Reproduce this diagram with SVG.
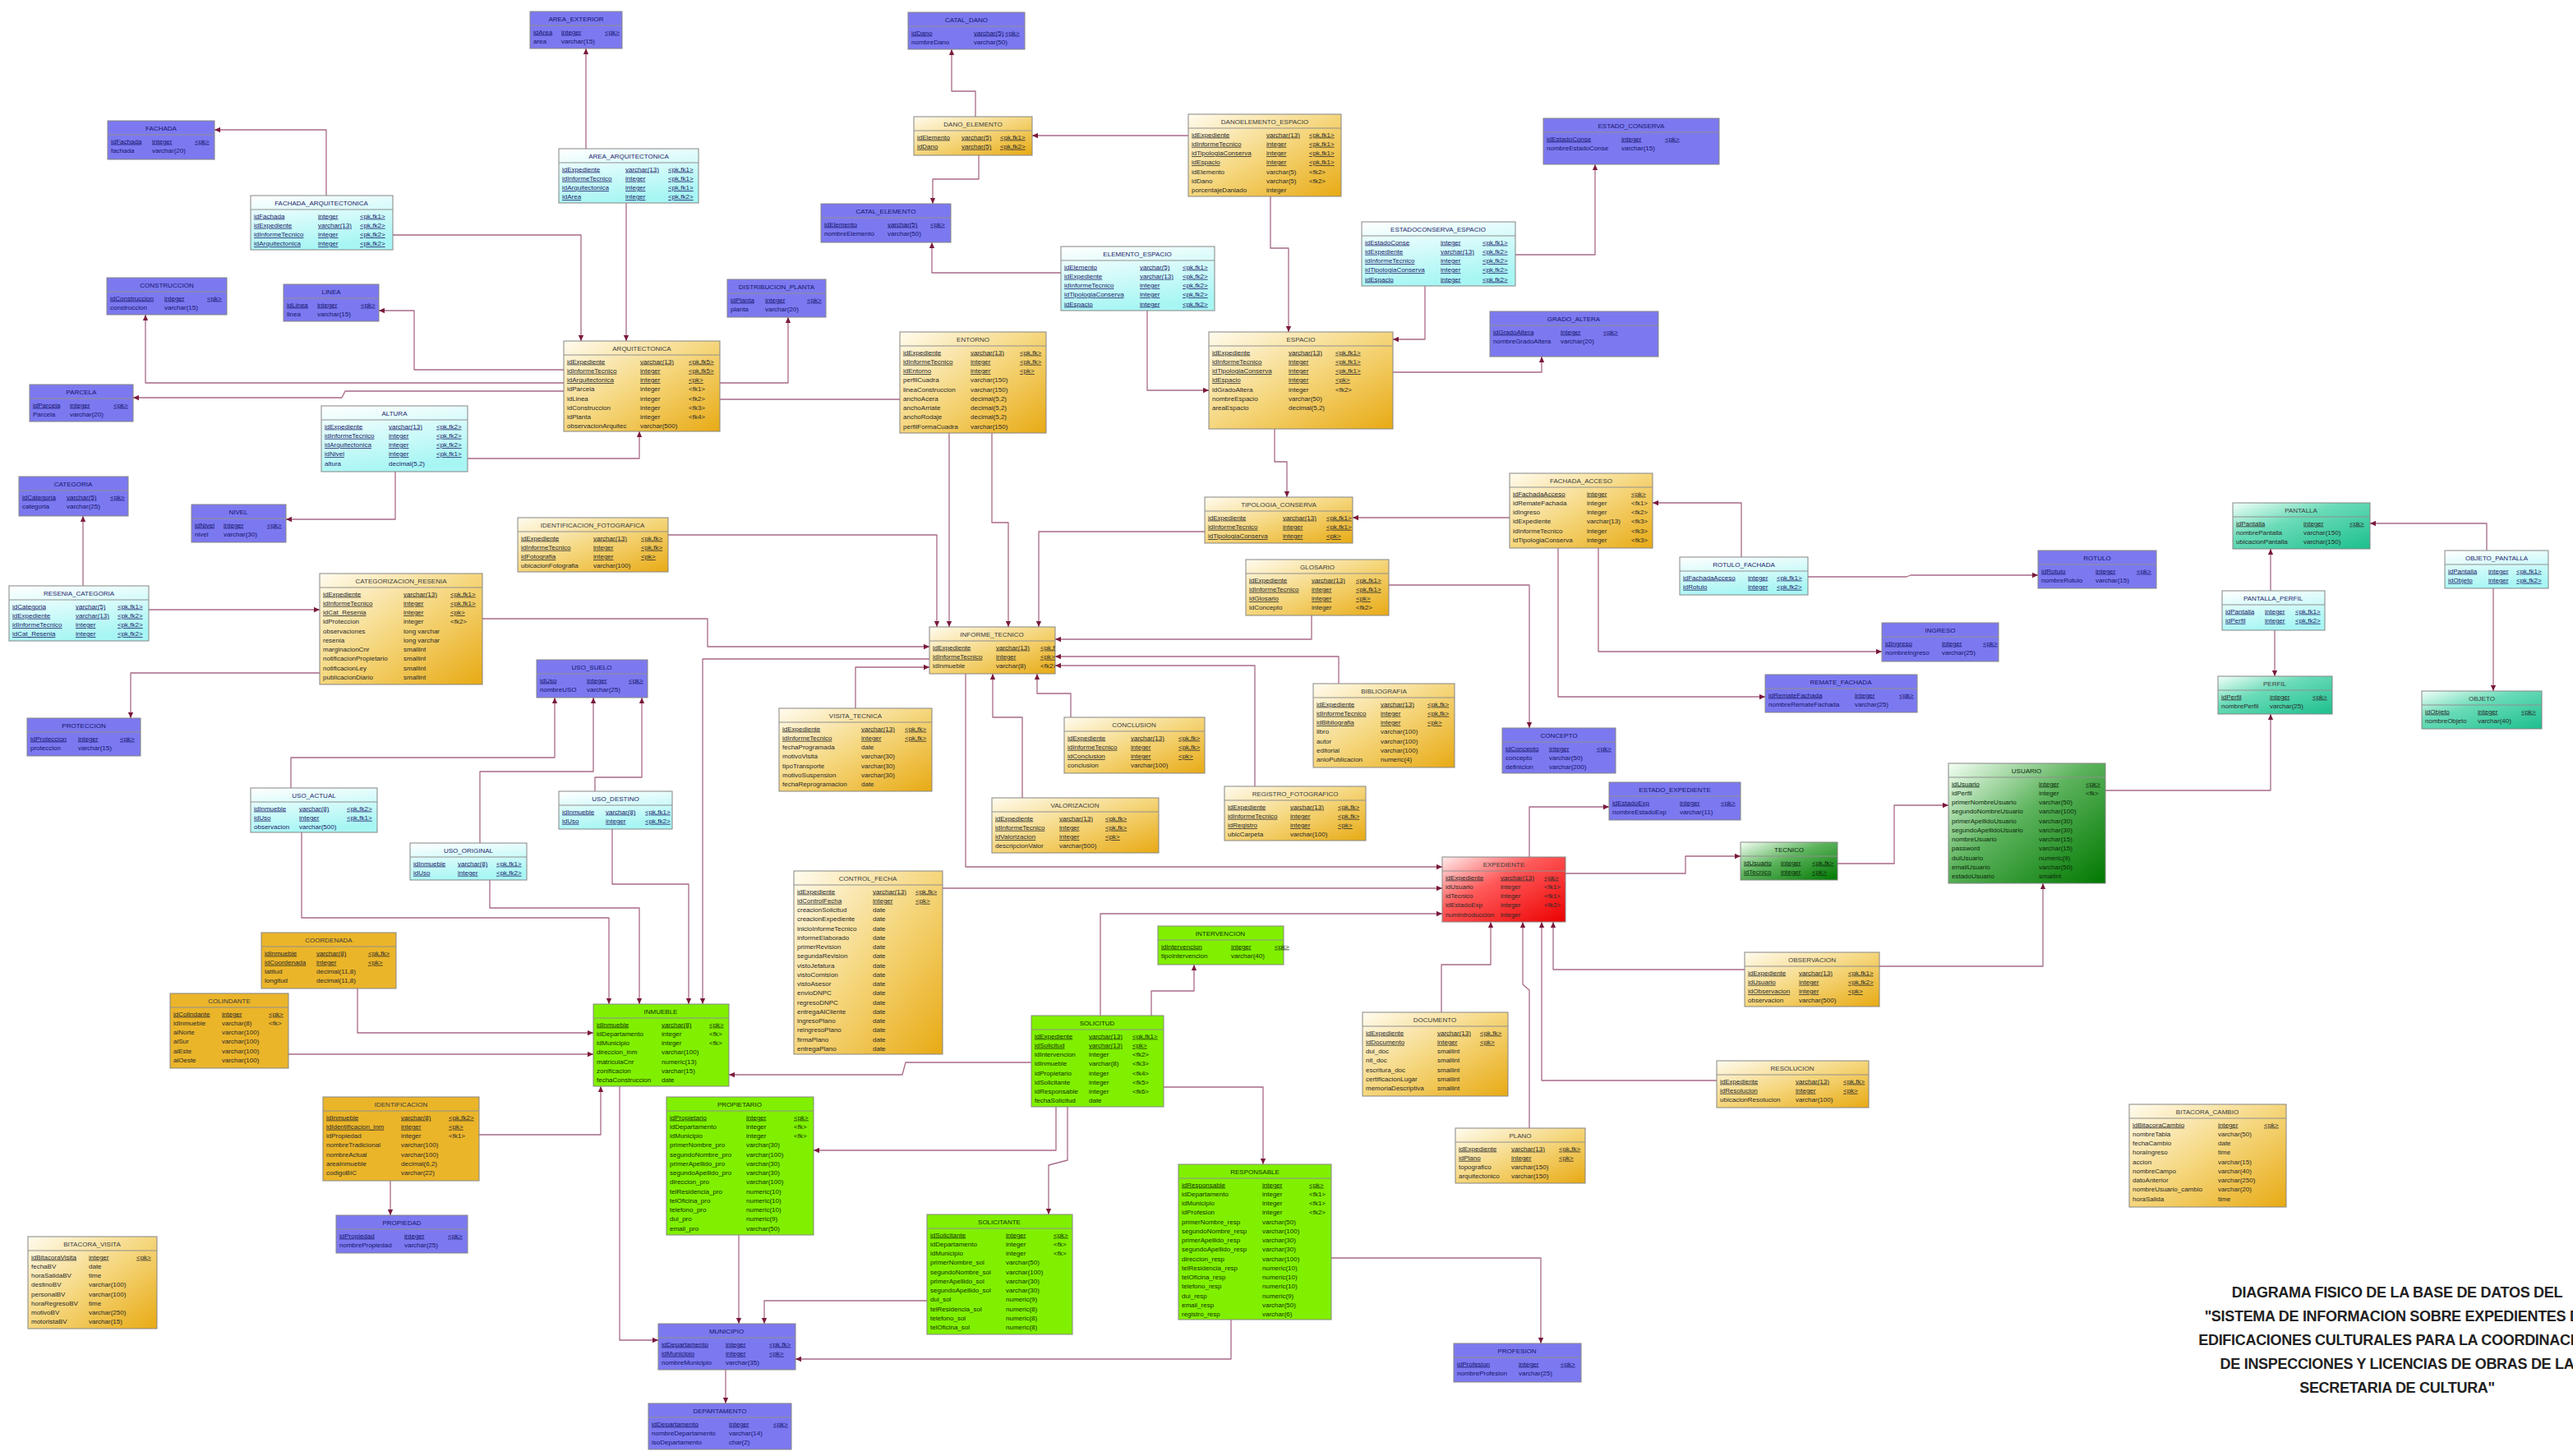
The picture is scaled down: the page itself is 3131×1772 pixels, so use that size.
<svg xmlns="http://www.w3.org/2000/svg" width="3131" height="1772" viewBox="0 0 3131 1772">
<defs>
<style>
text{font-family:"Liberation Sans",Arial,sans-serif;font-size:8px;fill:#2b2b2b}
.ttl{text-anchor:middle;fill:#3c3c3c}
.k{text-decoration:underline}
.tbl>rect{stroke:#858585;stroke-width:1}
.tbl>line{stroke:#909090;stroke-width:1}
.blue>rect{fill:#7c79f0}
.blue text{fill:#15156c}
.org>rect{fill:url(#gO)}
.org2>rect{fill:#ebb52a}
.cya>rect{fill:url(#gC)}
.cya text{fill:#1c1c6a}
.grn>rect{fill:#80f000}
.grn text{fill:#153000}
.red>rect{fill:url(#gR)}
.dgr>rect{fill:url(#gG)}
.dgr text{fill:#0b2a0b}
.tea>rect{fill:url(#gT)}
.cn path{fill:none;stroke:#a86a88;stroke-width:1.3;stroke-linejoin:round;marker-end:url(#ah)}
.title text{font-size:18px;font-weight:bold;fill:#222;text-anchor:middle;letter-spacing:-0.3px}
</style>
<linearGradient id="gO" x1="0" y1="0" x2="1" y2="1"><stop offset="0" stop-color="#fffbee"/><stop offset="0.5" stop-color="#f5d67c"/><stop offset="1" stop-color="#e8aa14"/></linearGradient>
<linearGradient id="gC" x1="0" y1="0" x2="0.3" y2="1"><stop offset="0" stop-color="#ffffff"/><stop offset="1" stop-color="#a8f6f4"/></linearGradient>
<linearGradient id="gR" x1="0" y1="0" x2="1" y2="1"><stop offset="0" stop-color="#ffecec"/><stop offset="0.4" stop-color="#ff5a5a"/><stop offset="1" stop-color="#ec0000"/></linearGradient>
<linearGradient id="gG" x1="0" y1="0" x2="1" y2="1"><stop offset="0" stop-color="#f4fff4"/><stop offset="0.45" stop-color="#5cb35c"/><stop offset="1" stop-color="#007800"/></linearGradient>
<linearGradient id="gT" x1="0" y1="0" x2="1" y2="1"><stop offset="0" stop-color="#f2fff9"/><stop offset="0.4" stop-color="#6adbb8"/><stop offset="1" stop-color="#1cbf8e"/></linearGradient>
<marker id="ah" viewBox="0 0 10 10" refX="10" refY="5" markerWidth="8" markerHeight="7" markerUnits="userSpaceOnUse" orient="auto"><path d="M0,0.5 L10,5 L0,9.5 z" fill="#7a1a3c"/></marker>
<clipPath id="cpIT"><rect width="153" height="57"/></clipPath>
</defs>
<rect width="3131" height="1772" fill="#ffffff"/>

<!-- relationships: each line runs from the child table to the referenced table -->
<g id="connectors" class="cn">
<path d="M713,181 L713,59"/>
<path d="M397,238 L397,158 L261,158"/>
<path d="M478,286 L707,286 L707,415"/>
<path d="M762,247 L762,415"/>
<path d="M686,450 L504,450 L504,378 L461,378"/>
<path d="M686,466 L177,466 L177,383"/>
<path d="M686,476 L420,476 L416,484 L162,484"/>
<path d="M569,558 L778,558 L778,525"/>
<path d="M481,574 L481,632 L348,632"/>
<path d="M1187,142 L1187,111 L1158,111 L1158,60"/>
<path d="M1191,189 L1191,218 L1135,218 L1135,248"/>
<path d="M1446,165 L1256,165"/>
<path d="M1546,239 L1546,302 L1568,302 L1568,404"/>
<path d="M1291,332 L1134,332 L1134,295"/>
<path d="M1396,378 L1396,475 L1471,475"/>
<path d="M876,466 L959,466 L959,386"/>
<path d="M876,486 L1155,486 L1155,763"/>
<path d="M1207,527 L1207,636 L1227,636 L1227,763"/>
<path d="M813,651 L1140,651 L1140,763"/>
<path d="M1466,647 L1264,647 L1264,763"/>
<path d="M587,753 L861,753 L861,787 L1131,787"/>
<path d="M1041,862 L1041,812 L1131,812"/>
<path d="M1131,802 L855,802 L855,1222"/>
<path d="M1596,749 L1596,778 L1284,778"/>
<path d="M1629,832 L1629,799 L1284,799"/>
<path d="M1527,957 L1527,810 L1284,810"/>
<path d="M1244,971 L1244,873 L1208,873 L1208,820"/>
<path d="M1303,873 L1303,844 L1262,844 L1262,820"/>
<path d="M1175,820 L1175,1055 L1755,1055"/>
<path d="M1147,1081 L1755,1081"/>
<path d="M1339,1236 L1339,1112 L1755,1112"/>
<path d="M1551,522 L1551,562 L1566,562 L1566,605"/>
<path d="M1837,630 L1646,630"/>
<path d="M2119,678 L2119,612 L2011,612"/>
<path d="M2200,702 L2320,702 L2325,700 L2480,700"/>
<path d="M1945,667 L1945,793 L2290,793"/>
<path d="M1896,667 L1896,848 L2148,848"/>
<path d="M1690,712 L1861,712 L1861,886"/>
<path d="M1861,1043 L1861,982 L1958,982"/>
<path d="M1905,1063 L2051,1063 L2051,1042 L2118,1042"/>
<path d="M2236,1051 L2305,1051 L2305,980 L2371,980"/>
<path d="M1754,1232 L1754,1174 L1814,1174 L1814,1122"/>
<path d="M1861,1373 L1861,1205 L1853,1198 L1853,1122"/>
<path d="M2089,1315 L1876,1315 L1876,1122"/>
<path d="M2123,1180 L1890,1180 L1890,1122"/>
<path d="M2287,1176 L2486,1176 L2486,1075"/>
<path d="M2562,962 L2763,962 L2763,869"/>
<path d="M2763,719 L2763,668"/>
<path d="M2768,767 L2768,823"/>
<path d="M3026,670 L3026,637 L2884,637"/>
<path d="M3034,716 L3034,841"/>
<path d="M1844,310 L1941,310 L1941,200"/>
<path d="M1734,348 L1734,413 L1695,413"/>
<path d="M1695,453 L1876,453 L1876,434"/>
<path d="M101,713 L101,628"/>
<path d="M181,742 L389,742"/>
<path d="M389,819 L159,819 L159,874"/>
<path d="M354,959 L354,922 L675,922 L675,849"/>
<path d="M584,1026 L584,939 L722,939 L722,849"/>
<path d="M724,963 L724,946 L781,946 L781,849"/>
<path d="M367,1013 L367,1117 L741,1117 L741,1222"/>
<path d="M596,1071 L596,1105 L778,1105 L778,1222"/>
<path d="M745,1009 L745,1076 L838,1076 L838,1222"/>
<path d="M435,1203 L435,1257 L722,1257"/>
<path d="M351,1283 L722,1283"/>
<path d="M583,1381 L731,1381 L731,1322"/>
<path d="M475,1437 L475,1479"/>
<path d="M754,1322 L754,1631 L801,1631"/>
<path d="M1255,1293 L1102,1293 L1098,1308 L887,1308"/>
<path d="M1401,1236 L1401,1206 L1453,1206 L1453,1174"/>
<path d="M1285,1347 L1285,1400 L990,1400"/>
<path d="M1299,1347 L1299,1412 L1276,1418 L1276,1478"/>
<path d="M1416,1323 L1537,1323 L1537,1417"/>
<path d="M899,1503 L899,1611"/>
<path d="M1128,1583 L930,1583 L930,1611"/>
<path d="M1498,1606 L1498,1654 L968,1654"/>
<path d="M883,1667 L883,1708"/>
<path d="M1620,1531 L1875,1531 L1875,1635"/>
</g>

<!-- tables -->
<g id="t-area-exterior" class="tbl blue" transform="translate(645,14)"><rect width="112" height="45"/><text class="ttl" x="56" y="12">AREA_EXTERIOR</text><line x1="0" y1="17" x2="112" y2="17"/>
<text x="4" y="27.5" class="k">idArea<tspan x="38">integer</tspan><tspan x="91">&lt;pk&gt;</tspan></text>
<text x="4" y="38.75">area<tspan x="38">varchar(15)</tspan></text></g>

<g id="t-fachada" class="tbl blue" transform="translate(131,147)"><rect width="130" height="47"/><text class="ttl" x="65" y="12">FACHADA</text><line x1="0" y1="17" x2="130" y2="17"/>
<text x="4" y="27.5" class="k">idFachada<tspan x="54">integer</tspan><tspan x="106">&lt;pk&gt;</tspan></text>
<text x="4" y="38.75">fachada<tspan x="54">varchar(20)</tspan></text></g>

<g id="t-fachada-arquitectonica" class="tbl cya" transform="translate(305,238)"><rect width="173" height="66"/><text class="ttl" x="86" y="12">FACHADA_ARQUITECTONICA</text><line x1="0" y1="17" x2="173" y2="17"/>
<text x="4" y="27.5" class="k">idFachada<tspan x="82">integer</tspan><tspan x="133">&lt;pk,fk1&gt;</tspan></text>
<text x="4" y="38.75" class="k">idExpediente<tspan x="82">varchar(13)</tspan><tspan x="133">&lt;pk,fk2&gt;</tspan></text>
<text x="4" y="50" class="k">idInformeTecnico<tspan x="82">integer</tspan><tspan x="133">&lt;pk,fk2&gt;</tspan></text>
<text x="4" y="61.25" class="k">idArquitectonica<tspan x="82">integer</tspan><tspan x="133">&lt;pk,fk2&gt;</tspan></text></g>

<g id="t-area-arquitectonica" class="tbl cya" transform="translate(680,181)"><rect width="170" height="66"/><text class="ttl" x="85" y="12">AREA_ARQUITECTONICA</text><line x1="0" y1="17" x2="170" y2="17"/>
<text x="4" y="27.5" class="k">idExpediente<tspan x="81">varchar(13)</tspan><tspan x="133">&lt;pk,fk1&gt;</tspan></text>
<text x="4" y="38.75" class="k">idInformeTecnico<tspan x="81">integer</tspan><tspan x="133">&lt;pk,fk1&gt;</tspan></text>
<text x="4" y="50" class="k">idArquitectonica<tspan x="81">integer</tspan><tspan x="133">&lt;pk,fk1&gt;</tspan></text>
<text x="4" y="61.25" class="k">idArea<tspan x="81">integer</tspan><tspan x="133">&lt;pk,fk2&gt;</tspan></text></g>

<g id="t-construccion" class="tbl blue" transform="translate(130,338)"><rect width="146" height="45"/><text class="ttl" x="73" y="12">CONSTRUCCION</text><line x1="0" y1="17" x2="146" y2="17"/>
<text x="4" y="27.5" class="k">idConstruccion<tspan x="70">integer</tspan><tspan x="122">&lt;pk&gt;</tspan></text>
<text x="4" y="38.75">construccion<tspan x="70">varchar(15)</tspan></text></g>

<g id="t-linea" class="tbl blue" transform="translate(345,346)"><rect width="116" height="45"/><text class="ttl" x="58" y="12">LINEA</text><line x1="0" y1="17" x2="116" y2="17"/>
<text x="4" y="27.5" class="k">idLinea<tspan x="41">integer</tspan><tspan x="94">&lt;pk&gt;</tspan></text>
<text x="4" y="38.75">linea<tspan x="41">varchar(15)</tspan></text></g>

<g id="t-parcela" class="tbl blue" transform="translate(36,468)"><rect width="126" height="45"/><text class="ttl" x="63" y="12">PARCELA</text><line x1="0" y1="17" x2="126" y2="17"/>
<text x="4" y="27.5" class="k">idParcela<tspan x="49">integer</tspan><tspan x="102">&lt;pk&gt;</tspan></text>
<text x="4" y="38.75">Parcela<tspan x="49">varchar(20)</tspan></text></g>

<g id="t-altura" class="tbl cya" transform="translate(391,494)"><rect width="178" height="80"/><text class="ttl" x="89" y="12">ALTURA</text><line x1="0" y1="17" x2="178" y2="17"/>
<text x="4" y="27.5" class="k">idExpediente<tspan x="82">varchar(13)</tspan><tspan x="140">&lt;pk,fk2&gt;</tspan></text>
<text x="4" y="38.75" class="k">idInformeTecnico<tspan x="82">integer</tspan><tspan x="140">&lt;pk,fk2&gt;</tspan></text>
<text x="4" y="50" class="k">idArquitectonica<tspan x="82">integer</tspan><tspan x="140">&lt;pk,fk2&gt;</tspan></text>
<text x="4" y="61.25" class="k">idNivel<tspan x="82">integer</tspan><tspan x="140">&lt;pk,fk1&gt;</tspan></text>
<text x="4" y="72.5">altura<tspan x="82">decimal(5,2)</tspan></text></g>

<g id="t-arquitectonica" class="tbl org" transform="translate(686,415)"><rect width="190" height="110"/><text class="ttl" x="95" y="12">ARQUITECTONICA</text><line x1="0" y1="17" x2="190" y2="17"/>
<text x="4" y="27.5" class="k">idExpediente<tspan x="93">varchar(13)</tspan><tspan x="152">&lt;pk,fk5&gt;</tspan></text>
<text x="4" y="38.75" class="k">idInformeTecnico<tspan x="93">integer</tspan><tspan x="152">&lt;pk,fk5&gt;</tspan></text>
<text x="4" y="50" class="k">idArquitectonica<tspan x="93">integer</tspan><tspan x="152">&lt;pk&gt;</tspan></text>
<text x="4" y="61.25">idParcela<tspan x="93">integer</tspan><tspan x="152">&lt;fk1&gt;</tspan></text>
<text x="4" y="72.5">idLinea<tspan x="93">integer</tspan><tspan x="152">&lt;fk2&gt;</tspan></text>
<text x="4" y="83.75">idConstruccion<tspan x="93">integer</tspan><tspan x="152">&lt;fk3&gt;</tspan></text>
<text x="4" y="95">idPlanta<tspan x="93">integer</tspan><tspan x="152">&lt;fk4&gt;</tspan></text>
<text x="4" y="106.25">observacionArquitec<tspan x="93">varchar(500)</tspan></text></g>

<g id="t-catal-dano" class="tbl blue" transform="translate(1105,15)"><rect width="142" height="45"/><text class="ttl" x="71" y="12">CATAL_DANO</text><line x1="0" y1="17" x2="142" y2="17"/>
<text x="4" y="27.5" class="k">idDano<tspan x="80">varchar(5)</tspan><tspan x="118">&lt;pk&gt;</tspan></text>
<text x="4" y="38.75">nombreDano<tspan x="80">varchar(50)</tspan></text></g>

<g id="t-dano-elemento" class="tbl org" transform="translate(1112,142)"><rect width="144" height="47"/><text class="ttl" x="72" y="12">DANO_ELEMENTO</text><line x1="0" y1="17" x2="144" y2="17"/>
<text x="4" y="27.5" class="k">idElemento<tspan x="58">varchar(5)</tspan><tspan x="105">&lt;pk,fk1&gt;</tspan></text>
<text x="4" y="38.75" class="k">idDano<tspan x="58">varchar(5)</tspan><tspan x="105">&lt;pk,fk2&gt;</tspan></text></g>

<g id="t-danoelemento-espacio" class="tbl org" transform="translate(1446,139)"><rect width="186" height="100"/><text class="ttl" x="93" y="12">DANOELEMENTO_ESPACIO</text><line x1="0" y1="17" x2="186" y2="17"/>
<text x="4" y="27.5" class="k">idExpediente<tspan x="95">varchar(13)</tspan><tspan x="147">&lt;pk,fk1&gt;</tspan></text>
<text x="4" y="38.75" class="k">idInformeTecnico<tspan x="95">integer</tspan><tspan x="147">&lt;pk,fk1&gt;</tspan></text>
<text x="4" y="50" class="k">idTipologiaConserva<tspan x="95">integer</tspan><tspan x="147">&lt;pk,fk1&gt;</tspan></text>
<text x="4" y="61.25" class="k">idEspacio<tspan x="95">integer</tspan><tspan x="147">&lt;pk,fk1&gt;</tspan></text>
<text x="4" y="72.5">idElemento<tspan x="95">varchar(5)</tspan><tspan x="147">&lt;fk2&gt;</tspan></text>
<text x="4" y="83.75">idDano<tspan x="95">varchar(5)</tspan><tspan x="147">&lt;fk2&gt;</tspan></text>
<text x="4" y="95">porcentajeDaniado<tspan x="95">integer</tspan></text></g>

<g id="t-catal-elemento" class="tbl blue" transform="translate(999,248)"><rect width="158" height="47"/><text class="ttl" x="79" y="12">CATAL_ELEMENTO</text><line x1="0" y1="17" x2="158" y2="17"/>
<text x="4" y="27.5" class="k">idElemento<tspan x="81">varchar(5)</tspan><tspan x="133">&lt;pk&gt;</tspan></text>
<text x="4" y="38.75">nombreElemento<tspan x="81">varchar(50)</tspan></text></g>

<g id="t-elemento-espacio" class="tbl cya" transform="translate(1291,300)"><rect width="187" height="78"/><text class="ttl" x="93" y="12">ELEMENTO_ESPACIO</text><line x1="0" y1="17" x2="187" y2="17"/>
<text x="4" y="27.5" class="k">idElemento<tspan x="96">varchar(5)</tspan><tspan x="148">&lt;pk,fk1&gt;</tspan></text>
<text x="4" y="38.75" class="k">idExpediente<tspan x="96">varchar(13)</tspan><tspan x="148">&lt;pk,fk2&gt;</tspan></text>
<text x="4" y="50" class="k">idInformeTecnico<tspan x="96">integer</tspan><tspan x="148">&lt;pk,fk2&gt;</tspan></text>
<text x="4" y="61.25" class="k">idTipologiaConserva<tspan x="96">integer</tspan><tspan x="148">&lt;pk,fk2&gt;</tspan></text>
<text x="4" y="72.5" class="k">idEspacio<tspan x="96">integer</tspan><tspan x="148">&lt;pk,fk2&gt;</tspan></text></g>

<g id="t-distribucion-planta" class="tbl blue" transform="translate(885,340)"><rect width="120" height="46"/><text class="ttl" x="60" y="12">DISTRIBUCION_PLANTA</text><line x1="0" y1="17" x2="120" y2="17"/>
<text x="4" y="27.5" class="k">idPlanta<tspan x="46">integer</tspan><tspan x="97">&lt;pk&gt;</tspan></text>
<text x="4" y="38.75">planta<tspan x="46">varchar(20)</tspan></text></g>

<g id="t-entorno" class="tbl org" transform="translate(1095,404)"><rect width="178" height="123"/><text class="ttl" x="89" y="12">ENTORNO</text><line x1="0" y1="17" x2="178" y2="17"/>
<text x="4" y="27.5" class="k">idExpediente<tspan x="86">varchar(13)</tspan><tspan x="146">&lt;pk,fk&gt;</tspan></text>
<text x="4" y="38.75" class="k">idInformeTecnico<tspan x="86">integer</tspan><tspan x="146">&lt;pk,fk&gt;</tspan></text>
<text x="4" y="50" class="k">idEntorno<tspan x="86">integer</tspan><tspan x="146">&lt;pk&gt;</tspan></text>
<text x="4" y="61.25">perfilCuadra<tspan x="86">varchar(150)</tspan></text>
<text x="4" y="72.5">lineaConstruccion<tspan x="86">varchar(150)</tspan></text>
<text x="4" y="83.75">anchoAcera<tspan x="86">decimal(5,2)</tspan></text>
<text x="4" y="95">anchoArriate<tspan x="86">decimal(5,2)</tspan></text>
<text x="4" y="106.25">anchoRodaje<tspan x="86">decimal(5,2)</tspan></text>
<text x="4" y="117.5">perfilFormaCuadra<tspan x="86">varchar(150)</tspan></text></g>

<g id="t-espacio" class="tbl org" transform="translate(1471,404)"><rect width="224" height="118"/><text class="ttl" x="112" y="12">ESPACIO</text><line x1="0" y1="17" x2="224" y2="17"/>
<text x="4" y="27.5" class="k">idExpediente<tspan x="97">varchar(13)</tspan><tspan x="154">&lt;pk,fk1&gt;</tspan></text>
<text x="4" y="38.75" class="k">idInformeTecnico<tspan x="97">integer</tspan><tspan x="154">&lt;pk,fk1&gt;</tspan></text>
<text x="4" y="50" class="k">idTipologiaConserva<tspan x="97">integer</tspan><tspan x="154">&lt;pk,fk1&gt;</tspan></text>
<text x="4" y="61.25" class="k">idEspacio<tspan x="97">integer</tspan><tspan x="154">&lt;pk&gt;</tspan></text>
<text x="4" y="72.5">idGradoAltera<tspan x="97">integer</tspan><tspan x="154">&lt;fk2&gt;</tspan></text>
<text x="4" y="83.75">nombreEspacio<tspan x="97">varchar(50)</tspan></text>
<text x="4" y="95">areaEspacio<tspan x="97">decimal(5,2)</tspan></text></g>

<g id="t-estado-conserva" class="tbl blue" transform="translate(1878,144)"><rect width="214" height="56"/><text class="ttl" x="107" y="12">ESTADO_CONSERVA</text><line x1="0" y1="17" x2="214" y2="17"/>
<text x="4" y="27.5" class="k">idEstadoConse<tspan x="95">integer</tspan><tspan x="148">&lt;pk&gt;</tspan></text>
<text x="4" y="38.75">nombreEstadoConse<tspan x="95">varchar(15)</tspan></text></g>

<g id="t-estadoconserva-espacio" class="tbl cya" transform="translate(1657,270)"><rect width="187" height="78"/><text class="ttl" x="93" y="12">ESTADOCONSERVA_ESPACIO</text><line x1="0" y1="17" x2="187" y2="17"/>
<text x="4" y="27.5" class="k">idEstadoConse<tspan x="96">integer</tspan><tspan x="147">&lt;pk,fk1&gt;</tspan></text>
<text x="4" y="38.75" class="k">idExpediente<tspan x="96">varchar(13)</tspan><tspan x="147">&lt;pk,fk2&gt;</tspan></text>
<text x="4" y="50" class="k">idInformeTecnico<tspan x="96">integer</tspan><tspan x="147">&lt;pk,fk2&gt;</tspan></text>
<text x="4" y="61.25" class="k">idTipologiaConserva<tspan x="96">integer</tspan><tspan x="147">&lt;pk,fk2&gt;</tspan></text>
<text x="4" y="72.5" class="k">idEspacio<tspan x="96">integer</tspan><tspan x="147">&lt;pk,fk2&gt;</tspan></text></g>

<g id="t-grado-altera" class="tbl blue" transform="translate(1813,379)"><rect width="205" height="55"/><text class="ttl" x="102" y="12">GRADO_ALTERA</text><line x1="0" y1="17" x2="205" y2="17"/>
<text x="4" y="27.5" class="k">idGradoAltera<tspan x="86">integer</tspan><tspan x="138">&lt;pk&gt;</tspan></text>
<text x="4" y="38.75">nombreGradoAltera<tspan x="86">varchar(20)</tspan></text></g>

<g id="t-fachada-acceso" class="tbl org" transform="translate(1837,576)"><rect width="174" height="91"/><text class="ttl" x="87" y="12">FACHADA_ACCESO</text><line x1="0" y1="17" x2="174" y2="17"/>
<text x="4" y="27.5" class="k">idFachadaAcceso<tspan x="94">integer</tspan><tspan x="148">&lt;pk&gt;</tspan></text>
<text x="4" y="38.75">idRemateFachada<tspan x="94">integer</tspan><tspan x="148">&lt;fk1&gt;</tspan></text>
<text x="4" y="50">idIngreso<tspan x="94">integer</tspan><tspan x="148">&lt;fk2&gt;</tspan></text>
<text x="4" y="61.25">idExpediente<tspan x="94">varchar(13)</tspan><tspan x="148">&lt;fk3&gt;</tspan></text>
<text x="4" y="72.5">idInformeTecnico<tspan x="94">integer</tspan><tspan x="148">&lt;fk3&gt;</tspan></text>
<text x="4" y="83.75">idTipologiaConserva<tspan x="94">integer</tspan><tspan x="148">&lt;fk3&gt;</tspan></text></g>

<g id="t-categoria" class="tbl blue" transform="translate(23,580)"><rect width="133" height="48"/><text class="ttl" x="66" y="12">CATEGORIA</text><line x1="0" y1="17" x2="133" y2="17"/>
<text x="4" y="27.5" class="k">idCategoria<tspan x="58">varchar(5)</tspan><tspan x="111">&lt;pk&gt;</tspan></text>
<text x="4" y="38.75">categoria<tspan x="58">varchar(25)</tspan></text></g>

<g id="t-nivel" class="tbl blue" transform="translate(233,614)"><rect width="115" height="46"/><text class="ttl" x="57" y="12">NIVEL</text><line x1="0" y1="17" x2="115" y2="17"/>
<text x="4" y="27.5" class="k">idNivel<tspan x="39">integer</tspan><tspan x="92">&lt;pk&gt;</tspan></text>
<text x="4" y="38.75">nivel<tspan x="39">varchar(30)</tspan></text></g>

<g id="t-identificacion-fotografica" class="tbl org" transform="translate(630,630)"><rect width="183" height="66"/><text class="ttl" x="91" y="12">IDENTIFICACION_FOTOGRAFICA</text><line x1="0" y1="17" x2="183" y2="17"/>
<text x="4" y="27.5" class="k">idExpediente<tspan x="92">varchar(13)</tspan><tspan x="150">&lt;pk,fk&gt;</tspan></text>
<text x="4" y="38.75" class="k">idInformeTecnico<tspan x="92">integer</tspan><tspan x="150">&lt;pk,fk&gt;</tspan></text>
<text x="4" y="50" class="k">idFotografia<tspan x="92">integer</tspan><tspan x="150">&lt;pk&gt;</tspan></text>
<text x="4" y="61.25">ubicacionFotografia<tspan x="92">varchar(100)</tspan></text></g>

<g id="t-resenia-categoria" class="tbl cya" transform="translate(11,713)"><rect width="170" height="67"/><text class="ttl" x="85" y="12">RESENIA_CATEGORIA</text><line x1="0" y1="17" x2="170" y2="17"/>
<text x="4" y="27.5" class="k">idCategoria<tspan x="81">varchar(5)</tspan><tspan x="132">&lt;pk,fk1&gt;</tspan></text>
<text x="4" y="38.75" class="k">idExpediente<tspan x="81">varchar(13)</tspan><tspan x="132">&lt;pk,fk2&gt;</tspan></text>
<text x="4" y="50" class="k">idInformeTecnico<tspan x="81">integer</tspan><tspan x="132">&lt;pk,fk2&gt;</tspan></text>
<text x="4" y="61.25" class="k">idCat_Resenia<tspan x="81">integer</tspan><tspan x="132">&lt;pk,fk2&gt;</tspan></text></g>

<g id="t-categorizacion-resenia" class="tbl org" transform="translate(389,698)"><rect width="198" height="135"/><text class="ttl" x="99" y="12">CATEGORIZACION_RESENIA</text><line x1="0" y1="17" x2="198" y2="17"/>
<text x="4" y="27.5" class="k">idExpediente<tspan x="102">varchar(13)</tspan><tspan x="159">&lt;pk,fk1&gt;</tspan></text>
<text x="4" y="38.75" class="k">idInformeTecnico<tspan x="102">integer</tspan><tspan x="159">&lt;pk,fk1&gt;</tspan></text>
<text x="4" y="50" class="k">idCat_Resenia<tspan x="102">integer</tspan><tspan x="159">&lt;pk&gt;</tspan></text>
<text x="4" y="61.25">idProteccion<tspan x="102">integer</tspan><tspan x="159">&lt;fk2&gt;</tspan></text>
<text x="4" y="72.5">observaciones<tspan x="102">long varchar</tspan></text>
<text x="4" y="83.75">resenia<tspan x="102">long varchar</tspan></text>
<text x="4" y="95">marginacionCnr<tspan x="102">smallint</tspan></text>
<text x="4" y="106.25">notificacionPropietario<tspan x="102">smallint</tspan></text>
<text x="4" y="117.5">notificacionLey<tspan x="102">smallint</tspan></text>
<text x="4" y="128.75">publicacionDiario<tspan x="102">smallint</tspan></text></g>

<g id="t-uso-suelo" class="tbl blue" transform="translate(653,803)"><rect width="135" height="46"/><text class="ttl" x="67" y="12">USO_SUELO</text><line x1="0" y1="17" x2="135" y2="17"/>
<text x="4" y="27.5" class="k">idUso<tspan x="61">integer</tspan><tspan x="112">&lt;pk&gt;</tspan></text>
<text x="4" y="38.75">nombreUSO<tspan x="61">varchar(25)</tspan></text></g>

<g id="t-proteccion" class="tbl blue" transform="translate(33,874)"><rect width="138" height="46"/><text class="ttl" x="69" y="12">PROTECCION</text><line x1="0" y1="17" x2="138" y2="17"/>
<text x="4" y="27.5" class="k">idProteccion<tspan x="62">integer</tspan><tspan x="113">&lt;pk&gt;</tspan></text>
<text x="4" y="38.75">proteccion<tspan x="62">varchar(15)</tspan></text></g>

<g id="t-uso-actual" class="tbl cya" transform="translate(305,959)"><rect width="154" height="54"/><text class="ttl" x="77" y="12">USO_ACTUAL</text><line x1="0" y1="17" x2="154" y2="17"/>
<text x="4" y="27.5" class="k">idInmueble<tspan x="59">varchar(8)</tspan><tspan x="117">&lt;pk,fk2&gt;</tspan></text>
<text x="4" y="38.75" class="k">idUso<tspan x="59">integer</tspan><tspan x="117">&lt;pk,fk1&gt;</tspan></text>
<text x="4" y="50">observacion<tspan x="59">varchar(500)</tspan></text></g>

<g id="t-uso-original" class="tbl cya" transform="translate(499,1026)"><rect width="142" height="45"/><text class="ttl" x="71" y="12">USO_ORIGINAL</text><line x1="0" y1="17" x2="142" y2="17"/>
<text x="4" y="27.5" class="k">idInmueble<tspan x="58">varchar(8)</tspan><tspan x="105">&lt;pk,fk1&gt;</tspan></text>
<text x="4" y="38.75" class="k">idUso<tspan x="58">integer</tspan><tspan x="105">&lt;pk,fk2&gt;</tspan></text></g>

<g id="t-uso-destino" class="tbl cya" transform="translate(680,963)"><rect width="138" height="46"/><text class="ttl" x="69" y="12">USO_DESTINO</text><line x1="0" y1="17" x2="138" y2="17"/>
<text x="4" y="27.5" class="k">idInmueble<tspan x="57">varchar(8)</tspan><tspan x="105">&lt;pk,fk1&gt;</tspan></text>
<text x="4" y="38.75" class="k">idUso<tspan x="57">integer</tspan><tspan x="105">&lt;pk,fk2&gt;</tspan></text></g>

<g id="t-coordenada" class="tbl org2" transform="translate(318,1135)"><rect width="164" height="68"/><text class="ttl" x="82" y="12">COORDENADA</text><line x1="0" y1="17" x2="164" y2="17"/>
<text x="4" y="27.5" class="k">idInmueble<tspan x="67">varchar(8)</tspan><tspan x="130">&lt;pk,fk&gt;</tspan></text>
<text x="4" y="38.75" class="k">idCoordenada<tspan x="67">integer</tspan><tspan x="130">&lt;pk&gt;</tspan></text>
<text x="4" y="50">latitud<tspan x="67">decimal(11,8)</tspan></text>
<text x="4" y="61.25">longitud<tspan x="67">decimal(11,8)</tspan></text></g>

<g id="t-tipologia-conserva" class="tbl org" transform="translate(1466,605)"><rect width="180" height="56"/><text class="ttl" x="90" y="12">TIPOLOGIA_CONSERVA</text><line x1="0" y1="17" x2="180" y2="17"/>
<text x="4" y="27.5" class="k">idExpediente<tspan x="95">varchar(13)</tspan><tspan x="148">&lt;pk,fk1&gt;</tspan></text>
<text x="4" y="38.75" class="k">idInformeTecnico<tspan x="95">integer</tspan><tspan x="148">&lt;pk,fk1&gt;</tspan></text>
<text x="4" y="50" class="k">idTipologiaConserva<tspan x="95">integer</tspan><tspan x="148">&lt;pk&gt;</tspan></text></g>

<g id="t-glosario" class="tbl org" transform="translate(1516,681)"><rect width="174" height="68"/><text class="ttl" x="87" y="12">GLOSARIO</text><line x1="0" y1="17" x2="174" y2="17"/>
<text x="4" y="27.5" class="k">idExpediente<tspan x="80">varchar(13)</tspan><tspan x="134">&lt;pk,fk1&gt;</tspan></text>
<text x="4" y="38.75" class="k">idInformeTecnico<tspan x="80">integer</tspan><tspan x="134">&lt;pk,fk1&gt;</tspan></text>
<text x="4" y="50" class="k">idGlosario<tspan x="80">integer</tspan><tspan x="134">&lt;pk&gt;</tspan></text>
<text x="4" y="61.25">idConcepto<tspan x="80">integer</tspan><tspan x="134">&lt;fk2&gt;</tspan></text></g>

<g id="t-informe-tecnico" class="tbl org" transform="translate(1131,763)"><rect width="153" height="57"/><g clip-path="url(#cpIT)"><text class="ttl" x="76" y="12">INFORME_TECNICO</text><line x1="0" y1="17" x2="153" y2="17" stroke="#909090"/>
<text x="4" y="27.5" class="k">idExpediente<tspan x="81">varchar(13)</tspan><tspan x="135">&lt;pk,fk1&gt;</tspan></text>
<text x="4" y="38.75" class="k">idInformeTecnico<tspan x="81">integer</tspan><tspan x="135">&lt;pk&gt;</tspan></text>
<text x="4" y="50">idInmueble<tspan x="81">varchar(8)</tspan><tspan x="135">&lt;fk2&gt;</tspan></text></g></g>

<g id="t-visita-tecnica" class="tbl org" transform="translate(948,862)"><rect width="186" height="101"/><text class="ttl" x="93" y="12">VISITA_TECNICA</text><line x1="0" y1="17" x2="186" y2="17"/>
<text x="4" y="27.5" class="k">idExpediente<tspan x="100">varchar(13)</tspan><tspan x="153">&lt;pk,fk&gt;</tspan></text>
<text x="4" y="38.75" class="k">idInformeTecnico<tspan x="100">integer</tspan><tspan x="153">&lt;pk,fk&gt;</tspan></text>
<text x="4" y="50">fechaProgramada<tspan x="100">date</tspan></text>
<text x="4" y="61.25">motivoVisita<tspan x="100">varchar(30)</tspan></text>
<text x="4" y="72.5">tipoTransporte<tspan x="100">varchar(30)</tspan></text>
<text x="4" y="83.75">motivoSuspension<tspan x="100">varchar(30)</tspan></text>
<text x="4" y="95">fechaReprogramacion<tspan x="100">date</tspan></text></g>

<g id="t-conclusion" class="tbl org" transform="translate(1295,873)"><rect width="171" height="68"/><text class="ttl" x="85" y="12">CONCLUSION</text><line x1="0" y1="17" x2="171" y2="17"/>
<text x="4" y="27.5" class="k">idExpediente<tspan x="81">varchar(13)</tspan><tspan x="139">&lt;pk,fk&gt;</tspan></text>
<text x="4" y="38.75" class="k">idInformeTecnico<tspan x="81">integer</tspan><tspan x="139">&lt;pk,fk&gt;</tspan></text>
<text x="4" y="50" class="k">idConclusion<tspan x="81">integer</tspan><tspan x="139">&lt;pk&gt;</tspan></text>
<text x="4" y="61.25">conclusion<tspan x="81">varchar(100)</tspan></text></g>

<g id="t-valorizacion" class="tbl org" transform="translate(1207,971)"><rect width="203" height="67"/><text class="ttl" x="101" y="12">VALORIZACION</text><line x1="0" y1="17" x2="203" y2="17"/>
<text x="4" y="27.5" class="k">idExpediente<tspan x="82">varchar(13)</tspan><tspan x="138">&lt;pk,fk&gt;</tspan></text>
<text x="4" y="38.75" class="k">idInformeTecnico<tspan x="82">integer</tspan><tspan x="138">&lt;pk,fk&gt;</tspan></text>
<text x="4" y="50" class="k">idValorizacion<tspan x="82">integer</tspan><tspan x="138">&lt;pk&gt;</tspan></text>
<text x="4" y="61.25">descripcionValor<tspan x="82">varchar(500)</tspan></text></g>

<g id="t-registro-fotografico" class="tbl org" transform="translate(1490,957)"><rect width="172" height="66"/><text class="ttl" x="86" y="12">REGISTRO_FOTOGRAFICO</text><line x1="0" y1="17" x2="172" y2="17"/>
<text x="4" y="27.5" class="k">idExpediente<tspan x="80">varchar(13)</tspan><tspan x="138">&lt;pk,fk&gt;</tspan></text>
<text x="4" y="38.75" class="k">idInformeTecnico<tspan x="80">integer</tspan><tspan x="138">&lt;pk,fk&gt;</tspan></text>
<text x="4" y="50" class="k">idRegistro<tspan x="80">integer</tspan><tspan x="138">&lt;pk&gt;</tspan></text>
<text x="4" y="61.25">ubicCarpeta<tspan x="80">varchar(100)</tspan></text></g>

<g id="t-control-fecha" class="tbl org" transform="translate(966,1060)"><rect width="181" height="223"/><text class="ttl" x="90" y="12">CONTROL_FECHA</text><line x1="0" y1="17" x2="181" y2="17"/>
<text x="4" y="27.5" class="k">idExpediente<tspan x="96">varchar(13)</tspan><tspan x="148">&lt;pk,fk&gt;</tspan></text>
<text x="4" y="38.75" class="k">idControlFecha<tspan x="96">integer</tspan><tspan x="148">&lt;pk&gt;</tspan></text>
<text x="4" y="50">creacionSolicitud<tspan x="96">date</tspan></text>
<text x="4" y="61.25">creacionExpediente<tspan x="96">date</tspan></text>
<text x="4" y="72.5">inicioInformeTecnico<tspan x="96">date</tspan></text>
<text x="4" y="83.75">informeElaborado<tspan x="96">date</tspan></text>
<text x="4" y="95">primerRevision<tspan x="96">date</tspan></text>
<text x="4" y="106.25">segundaRevision<tspan x="96">date</tspan></text>
<text x="4" y="117.5">vistoJefatura<tspan x="96">date</tspan></text>
<text x="4" y="128.75">vistoComision<tspan x="96">date</tspan></text>
<text x="4" y="140">vistoAsesor<tspan x="96">date</tspan></text>
<text x="4" y="151.25">envioDNPC<tspan x="96">date</tspan></text>
<text x="4" y="162.5">regresoDNPC<tspan x="96">date</tspan></text>
<text x="4" y="173.75">entregaAlCliente<tspan x="96">date</tspan></text>
<text x="4" y="185">ingresoPlano<tspan x="96">date</tspan></text>
<text x="4" y="196.25">reingresoPlano<tspan x="96">date</tspan></text>
<text x="4" y="207.5">firmaPlano<tspan x="96">date</tspan></text>
<text x="4" y="218.75">entregaPlano<tspan x="96">date</tspan></text></g>

<g id="t-intervencion" class="tbl grn" transform="translate(1409,1127)"><rect width="153" height="47"/><text class="ttl" x="76" y="12">INTERVENCION</text><line x1="0" y1="17" x2="153" y2="17"/>
<text x="4" y="27.5" class="k">idIntervencion<tspan x="89">integer</tspan><tspan x="142">&lt;pk&gt;</tspan></text>
<text x="4" y="38.75">tipoIntervencion<tspan x="89">varchar(40)</tspan></text></g>

<g id="t-rotulo-fachada" class="tbl cya" transform="translate(2044,678)"><rect width="156" height="46"/><text class="ttl" x="78" y="12">ROTULO_FACHADA</text><line x1="0" y1="17" x2="156" y2="17"/>
<text x="4" y="27.5" class="k">idFachadaAcceso<tspan x="83">integer</tspan><tspan x="118">&lt;pk,fk1&gt;</tspan></text>
<text x="4" y="38.75" class="k">idRotulo<tspan x="83">integer</tspan><tspan x="118">&lt;pk,fk2&gt;</tspan></text></g>

<g id="t-ingreso" class="tbl blue" transform="translate(2290,758)"><rect width="142" height="47"/><text class="ttl" x="71" y="12">INGRESO</text><line x1="0" y1="17" x2="142" y2="17"/>
<text x="4" y="27.5" class="k">idIngreso<tspan x="73">integer</tspan><tspan x="123">&lt;pk&gt;</tspan></text>
<text x="4" y="38.75">nombreIngreso<tspan x="73">varchar(25)</tspan></text></g>

<g id="t-remate-fachada" class="tbl blue" transform="translate(2148,821)"><rect width="185" height="46"/><text class="ttl" x="92" y="12">REMATE_FACHADA</text><line x1="0" y1="17" x2="185" y2="17"/>
<text x="4" y="27.5" class="k">idRemateFachada<tspan x="109">integer</tspan><tspan x="163">&lt;pk&gt;</tspan></text>
<text x="4" y="38.75">nombreRemateFachada<tspan x="109">varchar(25)</tspan></text></g>

<g id="t-bibliografia" class="tbl org" transform="translate(1598,832)"><rect width="172" height="102"/><text class="ttl" x="86" y="12">BIBLIOGRAFIA</text><line x1="0" y1="17" x2="172" y2="17"/>
<text x="4" y="27.5" class="k">idExpediente<tspan x="82">varchar(13)</tspan><tspan x="139">&lt;pk,fk&gt;</tspan></text>
<text x="4" y="38.75" class="k">idInformeTecnico<tspan x="82">integer</tspan><tspan x="139">&lt;pk,fk&gt;</tspan></text>
<text x="4" y="50" class="k">idBibliografia<tspan x="82">integer</tspan><tspan x="139">&lt;pk&gt;</tspan></text>
<text x="4" y="61.25">libro<tspan x="82">varchar(100)</tspan></text>
<text x="4" y="72.5">autor<tspan x="82">varchar(100)</tspan></text>
<text x="4" y="83.75">editorial<tspan x="82">varchar(100)</tspan></text>
<text x="4" y="95">anioPublicacion<tspan x="82">numeric(4)</tspan></text></g>

<g id="t-concepto" class="tbl blue" transform="translate(1828,886)"><rect width="138" height="55"/><text class="ttl" x="69" y="12">CONCEPTO</text><line x1="0" y1="17" x2="138" y2="17"/>
<text x="4" y="27.5" class="k">idConcepto<tspan x="57">integer</tspan><tspan x="115">&lt;pk&gt;</tspan></text>
<text x="4" y="38.75">concepto<tspan x="57">varchar(50)</tspan></text>
<text x="4" y="50">definicion<tspan x="57">varchar(200)</tspan></text></g>

<g id="t-estado-expediente" class="tbl blue" transform="translate(1958,952)"><rect width="160" height="46"/><text class="ttl" x="80" y="12">ESTADO_EXPEDIENTE</text><line x1="0" y1="17" x2="160" y2="17"/>
<text x="4" y="27.5" class="k">idEstadoExp<tspan x="86">integer</tspan><tspan x="136">&lt;pk&gt;</tspan></text>
<text x="4" y="38.75">nombreEstadoExp<tspan x="86">varchar(11)</tspan></text></g>

<g id="t-expediente" class="tbl red" transform="translate(1755,1043)"><rect width="150" height="79"/><text class="ttl" x="75" y="12">EXPEDIENTE</text><line x1="0" y1="17" x2="150" y2="17"/>
<text x="4" y="27.5" class="k">idExpediente<tspan x="71">varchar(13)</tspan><tspan x="124">&lt;pk&gt;</tspan></text>
<text x="4" y="38.75">idUsuario<tspan x="71">integer</tspan><tspan x="124">&lt;fk1&gt;</tspan></text>
<text x="4" y="50">idTecnico<tspan x="71">integer</tspan><tspan x="124">&lt;fk1&gt;</tspan></text>
<text x="4" y="61.25">idEstadoExp<tspan x="71">integer</tspan><tspan x="124">&lt;fk2&gt;</tspan></text>
<text x="4" y="72.5">numIntroduccion<tspan x="71">integer</tspan></text></g>

<g id="t-tecnico" class="tbl dgr" transform="translate(2118,1025)"><rect width="118" height="46"/><text class="ttl" x="59" y="12">TECNICO</text><line x1="0" y1="17" x2="118" y2="17"/>
<text x="4" y="27.5" class="k">idUsuario<tspan x="49">integer</tspan><tspan x="87">&lt;pk,fk&gt;</tspan></text>
<text x="4" y="38.75" class="k">idTecnico<tspan x="49">integer</tspan><tspan x="87">&lt;pk&gt;</tspan></text></g>

<g id="t-observacion" class="tbl org" transform="translate(2123,1159)"><rect width="164" height="66"/><text class="ttl" x="82" y="12">OBSERVACION</text><line x1="0" y1="17" x2="164" y2="17"/>
<text x="4" y="27.5" class="k">idExpediente<tspan x="66">varchar(13)</tspan><tspan x="126">&lt;pk,fk1&gt;</tspan></text>
<text x="4" y="38.75" class="k">idUsuario<tspan x="66">integer</tspan><tspan x="126">&lt;pk,fk2&gt;</tspan></text>
<text x="4" y="50" class="k">idObservacion<tspan x="66">integer</tspan><tspan x="126">&lt;pk&gt;</tspan></text>
<text x="4" y="61.25">observacion<tspan x="66">varchar(500)</tspan></text></g>

<g id="t-rotulo" class="tbl blue" transform="translate(2480,670)"><rect width="144" height="46"/><text class="ttl" x="72" y="12">ROTULO</text><line x1="0" y1="17" x2="144" y2="17"/>
<text x="4" y="27.5" class="k">idRotulo<tspan x="70">integer</tspan><tspan x="120">&lt;pk&gt;</tspan></text>
<text x="4" y="38.75">nombreRotulo<tspan x="70">varchar(15)</tspan></text></g>

<g id="t-pantalla" class="tbl tea" transform="translate(2717,612)"><rect width="167" height="56"/><text class="ttl" x="83" y="12">PANTALLA</text><line x1="0" y1="17" x2="167" y2="17"/>
<text x="4" y="27.5" class="k">idPantalla<tspan x="86">integer</tspan><tspan x="142">&lt;pk&gt;</tspan></text>
<text x="4" y="38.75">nombrePantalla<tspan x="86">varchar(150)</tspan></text>
<text x="4" y="50">ubicacionPantalla<tspan x="86">varchar(150)</tspan></text></g>

<g id="t-objeto-pantalla" class="tbl cya" transform="translate(2975,670)"><rect width="126" height="46"/><text class="ttl" x="63" y="12">OBJETO_PANTALLA</text><line x1="0" y1="17" x2="126" y2="17"/>
<text x="4" y="27.5" class="k">idPantalla<tspan x="53">integer</tspan><tspan x="87">&lt;pk,fk1&gt;</tspan></text>
<text x="4" y="38.75" class="k">idObjeto<tspan x="53">integer</tspan><tspan x="87">&lt;pk,fk2&gt;</tspan></text></g>

<g id="t-pantalla-perfil" class="tbl cya" transform="translate(2704,719)"><rect width="125" height="48"/><text class="ttl" x="62" y="12">PANTALLA_PERFIL</text><line x1="0" y1="17" x2="125" y2="17"/>
<text x="4" y="27.5" class="k">idPantalla<tspan x="52">integer</tspan><tspan x="89">&lt;pk,fk1&gt;</tspan></text>
<text x="4" y="38.75" class="k">idPerfil<tspan x="52">integer</tspan><tspan x="89">&lt;pk,fk2&gt;</tspan></text></g>

<g id="t-perfil" class="tbl tea" transform="translate(2699,823)"><rect width="139" height="46"/><text class="ttl" x="69" y="12">PERFIL</text><line x1="0" y1="17" x2="139" y2="17"/>
<text x="4" y="27.5" class="k">idPerfil<tspan x="63">integer</tspan><tspan x="115">&lt;pk&gt;</tspan></text>
<text x="4" y="38.75">nombrePerfil<tspan x="63">varchar(25)</tspan></text></g>

<g id="t-objeto" class="tbl tea" transform="translate(2947,841)"><rect width="146" height="46"/><text class="ttl" x="73" y="12">OBJETO</text><line x1="0" y1="17" x2="146" y2="17"/>
<text x="4" y="27.5" class="k">idObjeto<tspan x="68">integer</tspan><tspan x="121">&lt;pk&gt;</tspan></text>
<text x="4" y="38.75">nombreObjeto<tspan x="68">varchar(40)</tspan></text></g>

<g id="t-usuario" class="tbl dgr" transform="translate(2371,929)"><rect width="191" height="146"/><text class="ttl" x="95" y="12">USUARIO</text><line x1="0" y1="17" x2="191" y2="17"/>
<text x="4" y="27.5" class="k">idUsuario<tspan x="110">integer</tspan><tspan x="167">&lt;pk&gt;</tspan></text>
<text x="4" y="38.75">idPerfil<tspan x="110">integer</tspan><tspan x="167">&lt;fk&gt;</tspan></text>
<text x="4" y="50">primerNombreUsuario<tspan x="110">varchar(50)</tspan></text>
<text x="4" y="61.25">segundoNombreUsuario<tspan x="110">varchar(100)</tspan></text>
<text x="4" y="72.5">primerApellidoUsuario<tspan x="110">varchar(30)</tspan></text>
<text x="4" y="83.75">segundoApellidoUsuario<tspan x="110">varchar(30)</tspan></text>
<text x="4" y="95">nombreUsuario<tspan x="110">varchar(15)</tspan></text>
<text x="4" y="106.25">password<tspan x="110">varchar(15)</tspan></text>
<text x="4" y="117.5">duiUsuario<tspan x="110">numeric(9)</tspan></text>
<text x="4" y="128.75">emailUsuario<tspan x="110">varchar(50)</tspan></text>
<text x="4" y="140">estadoUsuario<tspan x="110">smallint</tspan></text></g>

<g id="t-colindante" class="tbl org2" transform="translate(207,1209)"><rect width="144" height="91"/><text class="ttl" x="72" y="12">COLINDANTE</text><line x1="0" y1="17" x2="144" y2="17"/>
<text x="4" y="27.5" class="k">idColindante<tspan x="63">integer</tspan><tspan x="120">&lt;pk&gt;</tspan></text>
<text x="4" y="38.75">idInmueble<tspan x="63">varchar(8)</tspan><tspan x="120">&lt;fk&gt;</tspan></text>
<text x="4" y="50">alNorte<tspan x="63">varchar(100)</tspan></text>
<text x="4" y="61.25">alSur<tspan x="63">varchar(100)</tspan></text>
<text x="4" y="72.5">alEste<tspan x="63">varchar(100)</tspan></text>
<text x="4" y="83.75">alOeste<tspan x="63">varchar(100)</tspan></text></g>

<g id="t-identificacion" class="tbl org2" transform="translate(393,1335)"><rect width="190" height="102"/><text class="ttl" x="95" y="12">IDENTIFICACION</text><line x1="0" y1="17" x2="190" y2="17"/>
<text x="4" y="27.5" class="k">idInmueble<tspan x="95">varchar(8)</tspan><tspan x="153">&lt;pk,fk2&gt;</tspan></text>
<text x="4" y="38.75" class="k">idIdentificacion_inm<tspan x="95">integer</tspan><tspan x="153">&lt;pk&gt;</tspan></text>
<text x="4" y="50">idPropiedad<tspan x="95">integer</tspan><tspan x="153">&lt;fk1&gt;</tspan></text>
<text x="4" y="61.25">nombreTradicional<tspan x="95">varchar(100)</tspan></text>
<text x="4" y="72.5">nombreActual<tspan x="95">varchar(100)</tspan></text>
<text x="4" y="83.75">areaInmueble<tspan x="95">decimal(6,2)</tspan></text>
<text x="4" y="95">codigoBIC<tspan x="95">varchar(22)</tspan></text></g>

<g id="t-propiedad" class="tbl blue" transform="translate(409,1479)"><rect width="160" height="46"/><text class="ttl" x="80" y="12">PROPIEDAD</text><line x1="0" y1="17" x2="160" y2="17"/>
<text x="4" y="27.5" class="k">idPropiedad<tspan x="83">integer</tspan><tspan x="136">&lt;pk&gt;</tspan></text>
<text x="4" y="38.75">nombrePropiedad<tspan x="83">varchar(25)</tspan></text></g>

<g id="t-bitacora-visita" class="tbl org" transform="translate(34,1505)"><rect width="157" height="112"/><text class="ttl" x="78" y="12">BITACORA_VISITA</text><line x1="0" y1="17" x2="157" y2="17"/>
<text x="4" y="27.5" class="k">idBitacoraVisita<tspan x="74">integer</tspan><tspan x="132">&lt;pk&gt;</tspan></text>
<text x="4" y="38.75">fechaBV<tspan x="74">date</tspan></text>
<text x="4" y="50">horaSalidaBV<tspan x="74">time</tspan></text>
<text x="4" y="61.25">destinoBV<tspan x="74">varchar(100)</tspan></text>
<text x="4" y="72.5">personalBV<tspan x="74">varchar(100)</tspan></text>
<text x="4" y="83.75">horaRegresoBV<tspan x="74">time</tspan></text>
<text x="4" y="95">motivoBV<tspan x="74">varchar(250)</tspan></text>
<text x="4" y="106.25">motoristaBV<tspan x="74">varchar(15)</tspan></text></g>

<g id="t-inmueble" class="tbl grn" transform="translate(722,1222)"><rect width="165" height="100"/><text class="ttl" x="82" y="12">INMUEBLE</text><line x1="0" y1="17" x2="165" y2="17"/>
<text x="4" y="27.5" class="k">idInmueble<tspan x="83">varchar(8)</tspan><tspan x="141">&lt;pk&gt;</tspan></text>
<text x="4" y="38.75">idDepartamento<tspan x="83">integer</tspan><tspan x="141">&lt;fk&gt;</tspan></text>
<text x="4" y="50">idMunicipio<tspan x="83">integer</tspan><tspan x="141">&lt;fk&gt;</tspan></text>
<text x="4" y="61.25">direccion_inm<tspan x="83">varchar(100)</tspan></text>
<text x="4" y="72.5">matriculaCnr<tspan x="83">numeric(13)</tspan></text>
<text x="4" y="83.75">zonificacion<tspan x="83">varchar(15)</tspan></text>
<text x="4" y="95">fechaConstruccion<tspan x="83">date</tspan></text></g>

<g id="t-solicitud" class="tbl grn" transform="translate(1255,1236)"><rect width="161" height="111"/><text class="ttl" x="80" y="12">SOLICITUD</text><line x1="0" y1="17" x2="161" y2="17"/>
<text x="4" y="27.5" class="k">idExpediente<tspan x="70">varchar(13)</tspan><tspan x="123">&lt;pk,fk1&gt;</tspan></text>
<text x="4" y="38.75" class="k">idSolicitud<tspan x="70">varchar(13)</tspan><tspan x="123">&lt;pk&gt;</tspan></text>
<text x="4" y="50">idIntervencion<tspan x="70">integer</tspan><tspan x="123">&lt;fk2&gt;</tspan></text>
<text x="4" y="61.25">idInmueble<tspan x="70">varchar(8)</tspan><tspan x="123">&lt;fk3&gt;</tspan></text>
<text x="4" y="72.5">idPropietario<tspan x="70">integer</tspan><tspan x="123">&lt;fk4&gt;</tspan></text>
<text x="4" y="83.75">idSolicitante<tspan x="70">integer</tspan><tspan x="123">&lt;fk5&gt;</tspan></text>
<text x="4" y="95">idResponsable<tspan x="70">integer</tspan><tspan x="123">&lt;fk6&gt;</tspan></text>
<text x="4" y="106.25">fechaSolicitud<tspan x="70">date</tspan></text></g>

<g id="t-propietario" class="tbl grn" transform="translate(811,1335)"><rect width="179" height="168"/><text class="ttl" x="89" y="12">PROPIETARIO</text><line x1="0" y1="17" x2="179" y2="17"/>
<text x="4" y="27.5" class="k">idPropietario<tspan x="97">integer</tspan><tspan x="155">&lt;pk&gt;</tspan></text>
<text x="4" y="38.75">idDepartamento<tspan x="97">integer</tspan><tspan x="155">&lt;fk&gt;</tspan></text>
<text x="4" y="50">idMunicipio<tspan x="97">integer</tspan><tspan x="155">&lt;fk&gt;</tspan></text>
<text x="4" y="61.25">primerNombre_pro<tspan x="97">varchar(30)</tspan></text>
<text x="4" y="72.5">segundoNombre_pro<tspan x="97">varchar(100)</tspan></text>
<text x="4" y="83.75">primerApellido_pro<tspan x="97">varchar(30)</tspan></text>
<text x="4" y="95">segundoApellido_pro<tspan x="97">varchar(30)</tspan></text>
<text x="4" y="106.25">direccion_pro<tspan x="97">varchar(100)</tspan></text>
<text x="4" y="117.5">telResidencia_pro<tspan x="97">numeric(10)</tspan></text>
<text x="4" y="128.75">telOficina_pro<tspan x="97">numeric(10)</tspan></text>
<text x="4" y="140">telefono_pro<tspan x="97">numeric(10)</tspan></text>
<text x="4" y="151.25">dui_pro<tspan x="97">numeric(9)</tspan></text>
<text x="4" y="162.5">email_pro<tspan x="97">varchar(50)</tspan></text></g>

<g id="t-solicitante" class="tbl grn" transform="translate(1128,1478)"><rect width="177" height="146"/><text class="ttl" x="88" y="12">SOLICITANTE</text><line x1="0" y1="17" x2="177" y2="17"/>
<text x="4" y="27.5" class="k">idSolicitante<tspan x="96">integer</tspan><tspan x="154">&lt;pk&gt;</tspan></text>
<text x="4" y="38.75">idDepartamento<tspan x="96">integer</tspan><tspan x="154">&lt;fk&gt;</tspan></text>
<text x="4" y="50">idMunicipio<tspan x="96">integer</tspan><tspan x="154">&lt;fk&gt;</tspan></text>
<text x="4" y="61.25">primerNombre_sol<tspan x="96">varchar(50)</tspan></text>
<text x="4" y="72.5">segundoNombre_sol<tspan x="96">varchar(100)</tspan></text>
<text x="4" y="83.75">primerApellido_sol<tspan x="96">varchar(30)</tspan></text>
<text x="4" y="95">segundoApellido_sol<tspan x="96">varchar(30)</tspan></text>
<text x="4" y="106.25">dui_sol<tspan x="96">numeric(9)</tspan></text>
<text x="4" y="117.5">telResidencia_sol<tspan x="96">numeric(8)</tspan></text>
<text x="4" y="128.75">telefono_sol<tspan x="96">numeric(8)</tspan></text>
<text x="4" y="140">telOficina_sol<tspan x="96">numeric(8)</tspan></text></g>

<g id="t-responsable" class="tbl grn" transform="translate(1434,1417)"><rect width="186" height="189"/><text class="ttl" x="93" y="12">RESPONSABLE</text><line x1="0" y1="17" x2="186" y2="17"/>
<text x="4" y="27.5" class="k">idResponsable<tspan x="102">integer</tspan><tspan x="159">&lt;pk&gt;</tspan></text>
<text x="4" y="38.75">idDepartamento<tspan x="102">integer</tspan><tspan x="159">&lt;fk1&gt;</tspan></text>
<text x="4" y="50">idMunicipio<tspan x="102">integer</tspan><tspan x="159">&lt;fk1&gt;</tspan></text>
<text x="4" y="61.25">idProfesion<tspan x="102">integer</tspan><tspan x="159">&lt;fk2&gt;</tspan></text>
<text x="4" y="72.5">primerNombre_resp<tspan x="102">varchar(50)</tspan></text>
<text x="4" y="83.75">segundoNombre_resp<tspan x="102">varchar(100)</tspan></text>
<text x="4" y="95">primerApellido_resp<tspan x="102">varchar(30)</tspan></text>
<text x="4" y="106.25">segundoApellido_resp<tspan x="102">varchar(30)</tspan></text>
<text x="4" y="117.5">direccion_resp<tspan x="102">varchar(100)</tspan></text>
<text x="4" y="128.75">telResidencia_resp<tspan x="102">numeric(10)</tspan></text>
<text x="4" y="140">telOficina_resp<tspan x="102">numeric(10)</tspan></text>
<text x="4" y="151.25">telefono_resp<tspan x="102">numeric(10)</tspan></text>
<text x="4" y="162.5">dui_resp<tspan x="102">numeric(9)</tspan></text>
<text x="4" y="173.75">email_resp<tspan x="102">varchar(50)</tspan></text>
<text x="4" y="185">registro_resp<tspan x="102">varchar(6)</tspan></text></g>

<g id="t-municipio" class="tbl blue" transform="translate(801,1611)"><rect width="167" height="56"/><text class="ttl" x="83" y="12">MUNICIPIO</text><line x1="0" y1="17" x2="167" y2="17"/>
<text x="4" y="27.5" class="k">idDepartamento<tspan x="82">integer</tspan><tspan x="135">&lt;pk,fk&gt;</tspan></text>
<text x="4" y="38.75" class="k">idMunicipio<tspan x="82">integer</tspan><tspan x="135">&lt;pk&gt;</tspan></text>
<text x="4" y="50">nombreMunicipio<tspan x="82">varchar(35)</tspan></text></g>

<g id="t-departamento" class="tbl blue" transform="translate(789,1708)"><rect width="174" height="56"/><text class="ttl" x="87" y="12">DEPARTAMENTO</text><line x1="0" y1="17" x2="174" y2="17"/>
<text x="4" y="27.5" class="k">idDepartamento<tspan x="98">integer</tspan><tspan x="152">&lt;pk&gt;</tspan></text>
<text x="4" y="38.75">nombreDepartamento<tspan x="98">varchar(14)</tspan></text>
<text x="4" y="50">isoDepartamento<tspan x="98">char(2)</tspan></text></g>

<g id="t-documento" class="tbl org" transform="translate(1658,1232)"><rect width="177" height="102"/><text class="ttl" x="88" y="12">DOCUMENTO</text><line x1="0" y1="17" x2="177" y2="17"/>
<text x="4" y="27.5" class="k">idExpediente<tspan x="91">varchar(13)</tspan><tspan x="143">&lt;pk,fk&gt;</tspan></text>
<text x="4" y="38.75" class="k">idDocumento<tspan x="91">integer</tspan><tspan x="143">&lt;pk&gt;</tspan></text>
<text x="4" y="50">dui_doc<tspan x="91">smallint</tspan></text>
<text x="4" y="61.25">nit_doc<tspan x="91">smallint</tspan></text>
<text x="4" y="72.5">escritura_doc<tspan x="91">smallint</tspan></text>
<text x="4" y="83.75">certificacionLugar<tspan x="91">smallint</tspan></text>
<text x="4" y="95">memoriaDescriptiva<tspan x="91">smallint</tspan></text></g>

<g id="t-resolucion" class="tbl org" transform="translate(2089,1291)"><rect width="185" height="57"/><text class="ttl" x="92" y="12">RESOLUCION</text><line x1="0" y1="17" x2="185" y2="17"/>
<text x="4" y="27.5" class="k">idExpediente<tspan x="96">varchar(13)</tspan><tspan x="154">&lt;pk,fk&gt;</tspan></text>
<text x="4" y="38.75" class="k">idResolucion<tspan x="96">integer</tspan><tspan x="154">&lt;pk&gt;</tspan></text>
<text x="4" y="50">ubicacionResolucion<tspan x="96">varchar(100)</tspan></text></g>

<g id="t-plano" class="tbl org" transform="translate(1771,1373)"><rect width="158" height="67"/><text class="ttl" x="79" y="12">PLANO</text><line x1="0" y1="17" x2="158" y2="17"/>
<text x="4" y="27.5" class="k">idExpediente<tspan x="68">varchar(13)</tspan><tspan x="126">&lt;pk,fk&gt;</tspan></text>
<text x="4" y="38.75" class="k">idPlano<tspan x="68">integer</tspan><tspan x="126">&lt;pk&gt;</tspan></text>
<text x="4" y="50">topografico<tspan x="68">varchar(150)</tspan></text>
<text x="4" y="61.25">arquitectonico<tspan x="68">varchar(150)</tspan></text></g>

<g id="t-profesion" class="tbl blue" transform="translate(1769,1635)"><rect width="155" height="47"/><text class="ttl" x="77" y="12">PROFESION</text><line x1="0" y1="17" x2="155" y2="17"/>
<text x="4" y="27.5" class="k">idProfesion<tspan x="79">integer</tspan><tspan x="130">&lt;pk&gt;</tspan></text>
<text x="4" y="38.75">nombreProfesion<tspan x="79">varchar(25)</tspan></text></g>

<g id="t-bitacora-cambio" class="tbl org" transform="translate(2591,1344)"><rect width="191" height="125"/><text class="ttl" x="95" y="12">BITACORA_CAMBIO</text><line x1="0" y1="17" x2="191" y2="17"/>
<text x="4" y="27.5" class="k">idBitacoraCambio<tspan x="108">integer</tspan><tspan x="164">&lt;pk&gt;</tspan></text>
<text x="4" y="38.75">nombreTabla<tspan x="108">varchar(50)</tspan></text>
<text x="4" y="50">fechaCambio<tspan x="108">date</tspan></text>
<text x="4" y="61.25">horaIngreso<tspan x="108">time</tspan></text>
<text x="4" y="72.5">accion<tspan x="108">varchar(15)</tspan></text>
<text x="4" y="83.75">nombreCampo<tspan x="108">varchar(40)</tspan></text>
<text x="4" y="95">datoAnterior<tspan x="108">varchar(250)</tspan></text>
<text x="4" y="106.25">nombreUsuario_cambio<tspan x="108">varchar(20)</tspan></text>
<text x="4" y="117.5">horaSalida<tspan x="108">time</tspan></text></g>

<!-- caption -->
<g id="title" class="title">
<text x="2917" y="1579">DIAGRAMA FISICO DE LA BASE DE DATOS DEL</text>
<text x="2917" y="1608">"SISTEMA DE INFORMACION SOBRE EXPEDIENTES DE</text>
<text x="2917" y="1637">EDIFICACIONES CULTURALES PARA LA COORDINACION</text>
<text x="2917" y="1666">DE INSPECCIONES Y LICENCIAS DE OBRAS DE LA</text>
<text x="2917" y="1695">SECRETARIA DE CULTURA"</text>
</g>
</svg>
